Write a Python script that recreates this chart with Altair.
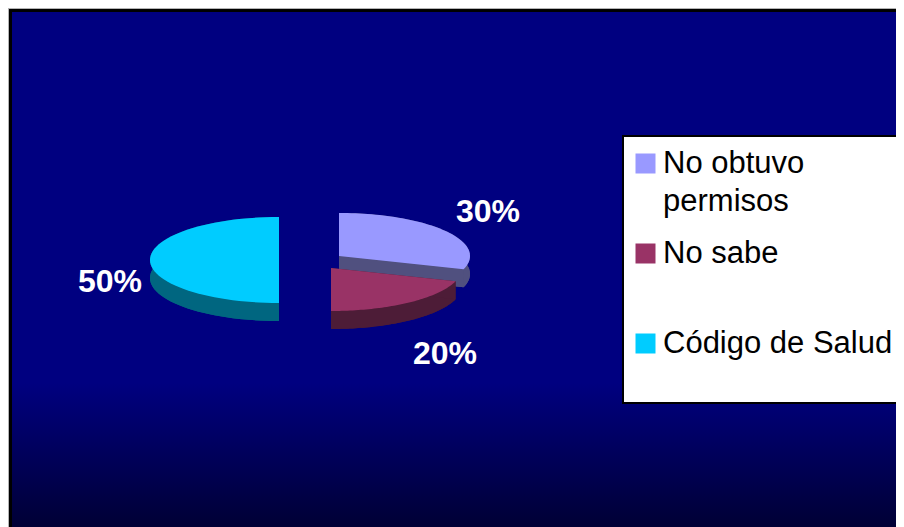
import math
import altair as alt
import pandas as pd

# ---- chart values
categories = ["No obtuvo permisos", "No sabe", "Código de Salud"]
shares = [30, 20, 50]
top_colors = ["#9999ff", "#993366", "#00ccff"]
side_colors = ["#50507f", "#4d1c37", "#006680"]

# ---- layout (screen pixels)
apex = [(339, 256), (331, 268), (279, 260)]
radius_x = [131, 131, 129]
label_pos = [(488, 212), (445, 354), (110, 282)]
RY, DEPTH = 43, 18
W, H = 896, 527
FONT = "Liberation Sans"

xs = alt.Scale(domain=[8, W], nice=False, zero=False)
ys = alt.Scale(domain=[H, 8], nice=False, zero=False)
X = lambda f="x": alt.X(f"{f}:Q", scale=xs, axis=None)
Y = lambda f="y": alt.Y(f"{f}:Q", scale=ys, axis=None)


def arc(c, rx, a0, a1, dy=0, n=60):
    return [(c[0] + rx * math.sin(a0 + (a1 - a0) * k / n),
             c[1] + dy - RY * math.cos(a0 + (a1 - a0) * k / n)) for k in range(n + 1)]


def table(polys, cat=None):
    rows = []
    for p, poly in enumerate(polys):
        for i, (x, y) in enumerate(poly):
            rows.append({"part": p, "i": i, "x": x, "y": y, "cat": cat})
    return pd.DataFrame(rows)


def box(x, x2, y, y2, **kw):
    d = pd.DataFrame([{"x": x, "x2": x2, "y": y, "y2": y2}])
    return alt.Chart(d).mark_rect(**kw).encode(X(), x2="x2:Q", y=Y(), y2="y2:Q")


fill_scale = alt.Scale(domain=categories, range=top_colors)
legend = alt.Legend(
    title=None, orient="none", legendX=622, legendY=140, padding=0,
    symbolType="square", symbolSize=400, symbolStrokeWidth=0, symbolOpacity=1,
    labelFont=FONT, labelFontSize=31, labelColor="black", labelOffset=2, labelLimit=400,
    rowPadding=58, labelExpr="datum.label == 'No obtuvo permisos' ? 'No obtuvo' : datum.label",
)

gradient = alt.LinearGradient(
    gradient="linear", x1=0, x2=0, y1=0, y2=1,
    stops=[alt.GradientStop(color="#000080", offset=0),
           alt.GradientStop(color="#000080", offset=0.72),
           alt.GradientStop(color="#000035", offset=1)],
)

layers = [
    box(8, W, 8, H, color="#b4b4b4"),
    box(9, W, 9, H, color="black"),
    box(12, W, 12, H, fill=gradient),
]

start = 0.0
for k, cat in enumerate(categories):
    a0 = start
    a1 = start + shares[k] / 100 * 2 * math.pi
    start = a1
    c, rx = apex[k], radius_x[k]
    top = [c] + arc(c, rx, a0, a1)
    low = [(x, y + DEPTH) for x, y in top]
    rim = arc(c, rx, a0, a1) + arc(c, rx, a1, a0, DEPTH)
    e0, e1 = arc(c, rx, a0, a0, n=1)[0], arc(c, rx, a1, a1, n=1)[0]
    f0 = [c, e0, (e0[0], e0[1] + DEPTH), (c[0], c[1] + DEPTH)]
    f1 = [c, e1, (e1[0], e1[1] + DEPTH), (c[0], c[1] + DEPTH)]
    layers.append(
        alt.Chart(table([low, rim, f0, f1])).mark_line(fill=side_colors[k], strokeWidth=0).encode(
            X(), Y(), detail="part:N", order="i:Q")
    )
    layers.append(
        alt.Chart(table([top], cat)).mark_line(strokeWidth=0).encode(
            X(), Y(), order="i:Q",
            fill=alt.Fill("cat:N", scale=fill_scale, legend=legend))
    )

labels = pd.DataFrame({
    "t": [f"{s}%" for s in shares],
    "x": [p[0] for p in label_pos],
    "y": [p[1] for p in label_pos],
})
layers.append(
    alt.Chart(labels).mark_text(font=FONT, fontSize=32, fontWeight="bold", color="white",
                                baseline="middle", align="center").encode(X(), Y(), text="t:N")
)

layers.append(box(622, W, 135, 404, color="black"))
layers.append(box(624, W, 137, 402, color="white"))
layers.append(
    alt.Chart(pd.DataFrame({"t": ["permisos"], "x": [663], "y": [202]})).mark_text(
        font=FONT, fontSize=31, color="black", baseline="middle", align="left"
    ).encode(X(), Y(), text="t:N")
)

chart = alt.layer(*layers).properties(
    width=888, height=519, padding=0, autosize=alt.AutoSizeParams(type="none"),
    background="white",
).configure_view(stroke=None)

chart.save("out.html", embed_options={"renderer": "svg", "actions": False})
